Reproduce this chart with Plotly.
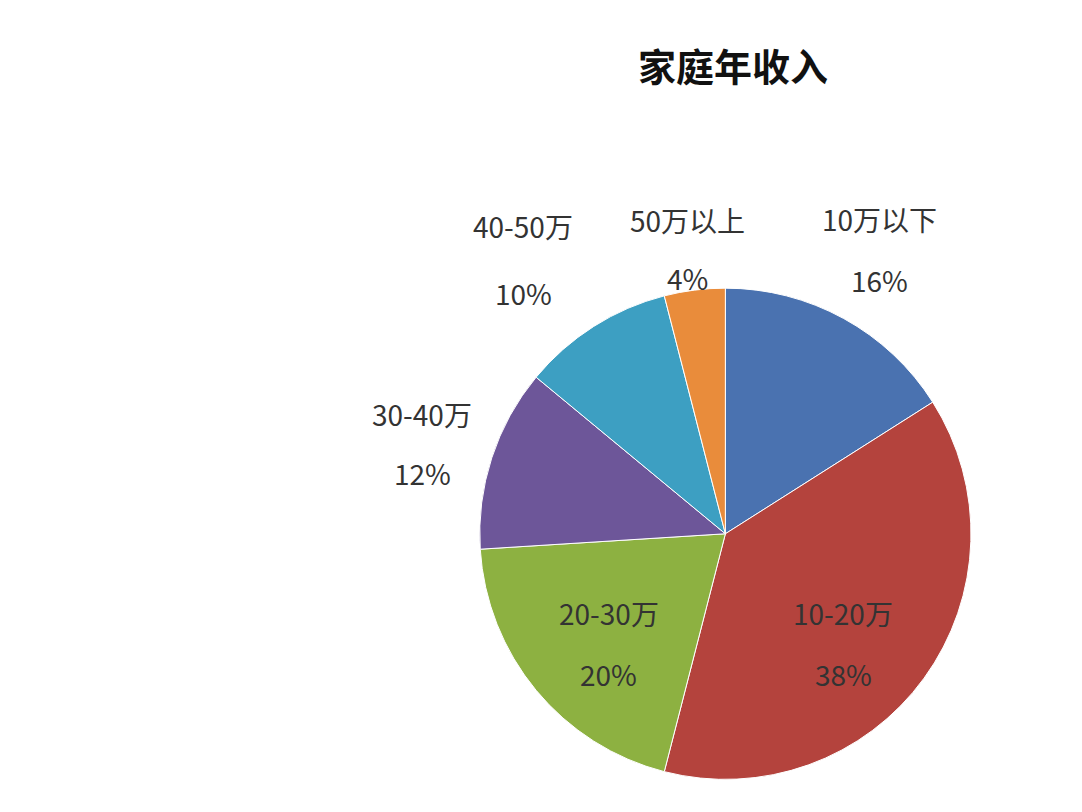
import plotly.graph_objects as go

categories = ["10万以下", "10-20万", "20-30万", "30-40万", "40-50万", "50万以上"]
shares = [16, 38, 20, 12, 10, 4]
colors = ["#4a72b0", "#b4433d", "#8db141", "#6d5699", "#3d9fc2", "#e98c3b"]

# label centre positions in paper coords (name line, percent line)
label_pos = [(0.805, 0.74, 0.665), (0.772, 0.255, 0.18), (0.555, 0.255, 0.18),
             (0.383, 0.50, 0.427), (0.476, 0.731, 0.649), (0.628, 0.739, 0.667)]

fig = go.Figure(go.Pie(
    labels=categories, values=shares, sort=False, direction="clockwise",
    rotation=0, marker=dict(colors=colors, line=dict(color="white", width=1)),
    textinfo="none", hoverinfo="label+percent", showlegend=False,
    domain=dict(x=[0.436, 0.89], y=[0.05, 0.655]),
))

ann = []
for name, val, (x, y1, y2) in zip(categories, shares, label_pos):
    for txt, y in ((name, y1), (f"{val}%", y2)):
        ann.append(dict(x=x, y=y, xref="paper", yref="paper", text=txt,
                        xanchor="center", yanchor="middle",
                        showarrow=False, font=dict(size=28, color="#333")))

fig.update_layout(
    width=1082, height=812, paper_bgcolor="white", plot_bgcolor="white",
    margin=dict(l=0, r=0, t=0, b=0),
    font=dict(family="Noto Sans CJK SC"),
    title=dict(text="<b>家庭年收入</b>", x=0.67, xanchor="center", y=0.926,
               yanchor="middle", font=dict(size=38, color="#111")),
    annotations=ann,
)
fig.write_html("out.html")
